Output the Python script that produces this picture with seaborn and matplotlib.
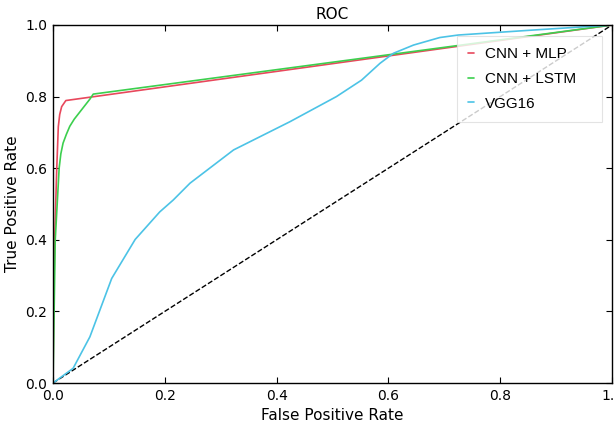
import matplotlib
matplotlib.use("Agg")
import matplotlib.pyplot as plt
import seaborn as sns
import pandas as pd

# ROC data
mlp_fpr = [0.0, 0.001, 0.003, 0.0066, 0.0095, 0.012, 0.0155, 0.023, 1.0]
mlp_tpr = [0.0, 0.20, 0.40, 0.595, 0.716, 0.75, 0.772, 0.789, 1.0]

lstm_fpr = [0.0, 0.002, 0.004, 0.011, 0.014, 0.018, 0.024, 0.030, 0.038,
            0.048, 0.058, 0.066, 0.072, 1.0]
lstm_tpr = [0.0, 0.20, 0.40, 0.60, 0.64, 0.67, 0.695, 0.717, 0.737,
            0.757, 0.777, 0.793, 0.807, 1.0]

vgg_fpr = [0.0, 0.036, 0.066, 0.105, 0.147, 0.191, 0.215, 0.245, 0.323, 0.424,
           0.507, 0.552, 0.585, 0.609, 0.645, 0.692, 0.725, 0.85, 1.0]
vgg_tpr = [0.0, 0.041, 0.129, 0.292, 0.401, 0.478, 0.511, 0.558, 0.651, 0.730,
           0.800, 0.846, 0.893, 0.921, 0.944, 0.965, 0.972, 0.985, 1.0]

diag = [0.0, 1.0]
labels = ["CNN + MLP", "CNN + LSTM", "VGG16"]
colors = ["#e8485c", "#3ccf4e", "#4cc3e6"]

sns.set_theme(style="ticks", rc={
    "xtick.direction": "in", "ytick.direction": "in",
    "xtick.top": True, "ytick.right": True,
    "axes.edgecolor": "black", "axes.linewidth": 1.0,
    "text.color": "black", "axes.labelcolor": "black",
    "xtick.color": "black", "ytick.color": "black",
})
plt.rcParams["font.family"] = ["DejaVu Sans"]

fig = plt.figure(figsize=(6.15, 4.23), dpi=100)
ax = fig.add_axes([53 / 615, 40 / 423, 559 / 615, 358 / 423])

ax.plot(diag, diag, linestyle="--", color="black", linewidth=1.0)
series = [(mlp_fpr, mlp_tpr), (lstm_fpr, lstm_tpr), (vgg_fpr, vgg_tpr)]
for (x, y), lab, c in zip(series, labels, colors):
    df = pd.DataFrame({"fpr": x, "tpr": y})
    sns.lineplot(data=df, x="fpr", y="tpr", ax=ax, color=c, label=lab,
                 sort=False, estimator=None, linewidth=1.2)

ax.set_xlim(0, 1)
ax.set_ylim(0, 1)
ax.set_xticks([0, 0.2, 0.4, 0.6, 0.8, 1.0])
ax.set_yticks([0, 0.2, 0.4, 0.6, 0.8, 1.0])
ax.tick_params(labelsize=10, length=4, width=0.8, color="black", pad=4)
ax.set_xlabel("False Positive Rate", fontsize=11)
ax.set_ylabel("True Positive Rate", fontsize=11)
ax.set_title("ROC", fontsize=11, pad=4)

leg = ax.legend(loc="upper left", bbox_to_anchor=(0.7227, 0.9693, 0.2594, 0.0),
                mode="expand", borderaxespad=0.0,
                handlelength=0.35, handletextpad=0.72, labelspacing=0.7,
                borderpad=0.75, frameon=True, fancybox=False, framealpha=0.8,
                edgecolor="#dddddd", prop={"family": "Liberation Sans", "size": 11})
leg.get_frame().set_linewidth(0.8)

fig.savefig("out.png", dpi=100)
